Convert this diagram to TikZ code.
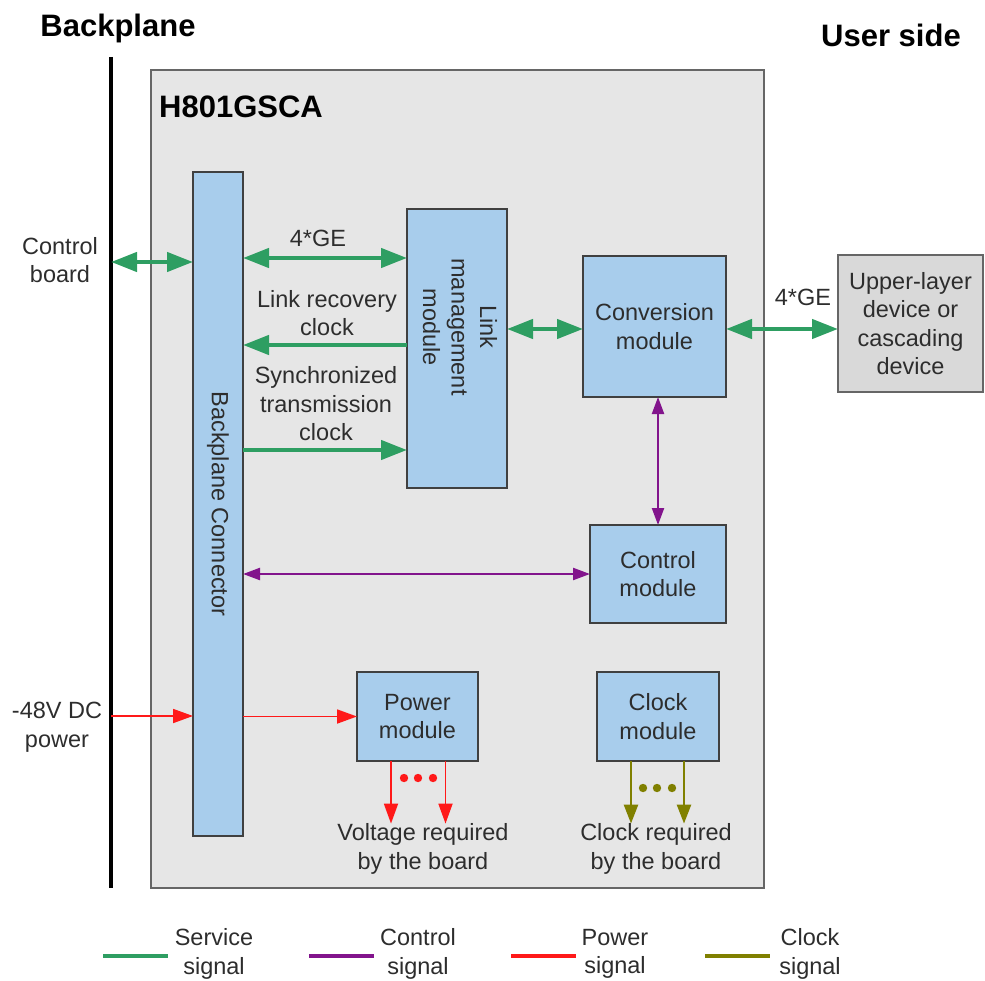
\documentclass[tikz,border=0pt]{standalone}
\usepackage{fontspec}
\setmainfont{Liberation Sans}
\usepackage{xcolor}
\usepackage{tikz}
\usetikzlibrary{positioning, arrows.meta}
\definecolor{svcgreen}{RGB}{46,158,98}
\definecolor{ctrlpurple}{RGB}{130,20,140}
\definecolor{pwrred}{RGB}{255,25,25}
\definecolor{clkolive}{RGB}{128,128,0}
\definecolor{boxblue}{RGB}{168,205,236}
\definecolor{boardgrey}{RGB}{230,230,230}
\definecolor{devgrey}{RGB}{217,217,217}
\definecolor{textgrey}{RGB}{45,45,45}
\tikzset{
    text_style/.style={
        font=\fontsize{23.5pt}{28.5pt}\selectfont, % 正文字体
        text=textgrey,
        align=center,
        inner sep=0pt
    },
    title_style/.style={
        font=\fontsize{31pt}{36pt}\selectfont\bfseries, % 标题字体
        text=black,
        inner sep=0pt
    },
    block_style/.style={
        text_style,
        draw=black!75,        % 边框颜色
        line width=1.6pt,
        fill=boxblue,         % 填充颜色
        outer sep=0pt
    },
    service_style/.style={
        draw=svcgreen,
        line width=4.5pt,
        >={Triangle[length=26pt, width=19pt]}
    },
    control_style/.style={
        draw=ctrlpurple,
        line width=2.2pt,
        >={Triangle[length=17pt, width=12pt]}
    },
    power_style/.style={
        draw=pwrred,
        line width=1.8pt,
        >={Triangle[length=20pt, width=14pt]}
    },
    clock_style/.style={
        draw=clkolive,
        line width=2.5pt,
        >={Triangle[length=19pt, width=14pt]}
    }
}
\begin{document}
\begin{tikzpicture}[x=1pt, y=-1pt]
            \useasboundingbox (0,0) rectangle (985,981);
            % 1. 背板与单板
            \draw[line width=4pt] (111,57) coordinate (bp_top) -- (111,888) coordinate (bp_bot);
            \node[title_style] (bp_title) at (118,28) {Backplane};
            \node[title_style] (user_title) at (891,35) {User side};
            \node[draw=black!60, line width=1.6pt, fill=boardgrey, inner sep=0pt,
                  minimum width=613pt, minimum height=818pt] (board) at (457.5,479) {};
            \node[title_style, anchor=west] (board_name) at (159,107) {H801GSCA};

            % 2. 定义模块
            \node[block_style, minimum width=50pt, minimum height=664pt] (conn) at (218,504) {};
            \node[text_style, rotate=-90] (conn_text) at (conn.center) {Backplane Connector};
            \node[block_style, minimum width=100pt, minimum height=279pt] (lmm) at (457,348.5) {};
            \node[text_style, rotate=-90] (lmm_text) at (460,327) {Link\\management\\module};
            \node[block_style, minimum width=143pt, minimum height=141pt] (conv) at (654.5,326.5) {Conversion\\module};
            \node[block_style, fill=devgrey, draw=black!60, minimum width=145pt, minimum height=137pt] (upper) at (910.5,323.5) {Upper-layer\\device or\\cascading\\device};
            \node[block_style, minimum width=136pt, minimum height=98pt] (ctrl) at (658,574) {Control\\module};
            \node[block_style, minimum width=121pt, minimum height=89pt] (pwr) at (417.5,716.5) {Power\\module};
            \node[block_style, minimum width=122pt, minimum height=89pt] (clk) at (658,716.5) {Clock\\module};

            % 3. 文字标注
            \node[text_style] (cb_label) at (60,260) {Control\\board};
            \node[text_style] (dc_label) at (57,727) {-48V DC\\power};
            \node[text_style] (ge_label) at (318,238) {4*GE};
            \node[text_style] (lrc_label) at (327,313) {Link recovery\\clock};
            \node[text_style] (stc_label) at (326,404) {Synchronized\\transmission\\clock};
            \node[text_style] (ge2_label) at (803,297) {4*GE};
            \node[text_style] (volt_label) at (423,849) {Voltage required\\by the board};
            \node[text_style] (clkreq_label) at (656,849) {Clock required\\by the board};

            % 4. 绘制带箭头的连线
            \coordinate (row_cb) at (0,262);
            \coordinate (row_ge) at (0,258);
            \coordinate (row_lrc) at (0,345);
            \coordinate (row_stc) at (0,450);
            \coordinate (row_conv) at (0,329);
            \coordinate (row_dc) at (0,716);
            \draw[service_style, <->] (bp_top |- row_cb) -- (conn.west |- row_cb);
            \draw[service_style, <->] (conn.east |- row_ge) -- (lmm.west |- row_ge);
            \draw[service_style, ->] (lmm.west |- row_lrc) -- (conn.east |- row_lrc);
            \draw[service_style, ->] (conn.east |- row_stc) -- (lmm.west |- row_stc);
            \draw[service_style, <->] (lmm.east |- row_conv) -- (conv.west |- row_conv);
            \draw[service_style, <->] (conv.east |- row_conv) -- (upper.west |- row_conv);
            \draw[control_style, <->] (ctrl.north |- conv.south) -- (ctrl.north);
            \draw[control_style, <->] (conn.east |- ctrl.west) -- (ctrl.west);
            \draw[power_style, ->] (bp_top |- row_dc) -- (conn.west |- row_dc);
            \draw[power_style, ->] (conn.east |- pwr.west) -- (pwr.west);
            \draw[power_style, ->] ([xshift=-26.5pt]pwr.south) -- ([xshift=-26.5pt]pwr.south |- volt_label.north);
            \draw[power_style, ->] ([xshift=28pt]pwr.south) -- ([xshift=28pt]pwr.south |- volt_label.north);
            \draw[clock_style, ->] ([xshift=-27pt]clk.south) -- ([xshift=-27pt]clk.south |- clkreq_label.north);
            \draw[clock_style, ->] ([xshift=26pt]clk.south) -- ([xshift=26pt]clk.south |- clkreq_label.north);
            \foreach \x in {404,418,433} \fill[pwrred] (\x,778) circle (4.2pt);
            \foreach \x in {643,657,672} \fill[clkolive] (\x,788) circle (4.2pt);

            % 5. 图例
            \foreach \x/\c/\t/\tx in {103/svcgreen/Service/214, 309/ctrlpurple/Control/418,
                                      511/pwrred/Power/615, 705/clkolive/Clock/810} {
                \draw[\c, line width=4pt] (\x,956) -- ++(65,0);
                \node[text_style] at (\tx,954) {\t\\signal};
            }
        \end{tikzpicture}
\end{document}
